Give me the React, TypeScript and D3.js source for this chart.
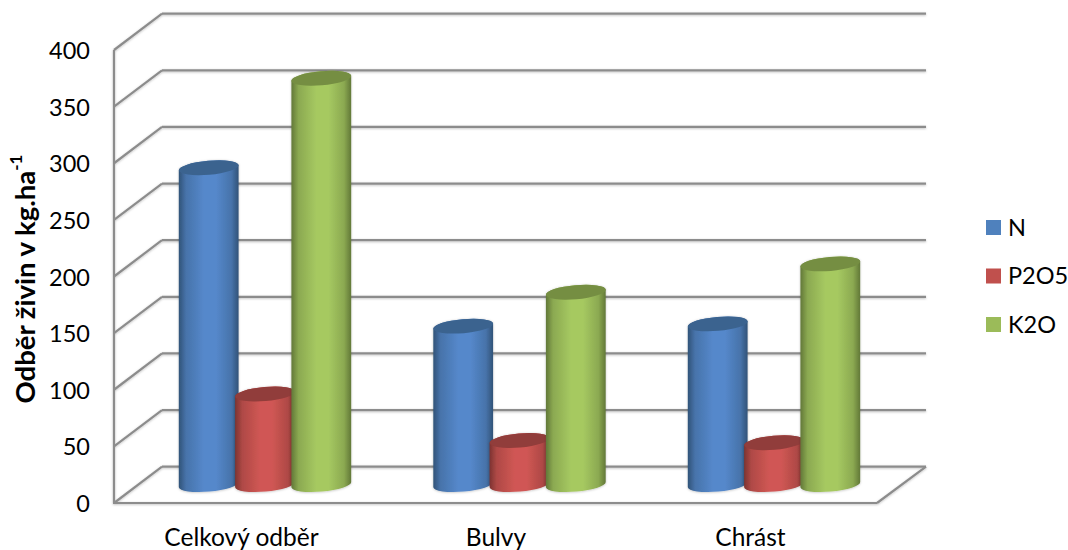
import React from "react";
import * as d3 from "d3";

const categories = ["Celkový odběr", "Bulvy", "Chrást"];
const seriesNames = ["N", "P2O5", "K2O"];
const nValues = [280, 140, 142];
const p2o5Values = [80, 39, 37];
const k2oValues = [359, 170, 195];
const tickValues = [0, 50, 100, 150, 200, 250, 300, 350, 400];

const seriesValues = [nValues, p2o5Values, k2oValues];
const swatch = ["#4f81bd", "#c0504d", "#9bbb59"];
const capFill = ["#3b638f", "#913c3a", "#758e43"];
const edge = ["#315378", "#7d3331", "#627838"];
const mid = ["#5588cb", "#d05754", "#a6c961"];

// The 3D box: a front plane, a back wall and a mid-depth plane for the cylinders.
const yFront = d3.scaleLinear().domain([0, 400]).range([503, 50]);
const yBack = d3.scaleLinear().domain([0, 400]).range([466.7, 13.7]);
const yMid = d3.scaleLinear().domain([0, 400]).range([484.6, 31.9]);
const xCat = d3.scaleBand().domain(categories).range([137.75, 901.25]);
const xSeries = d3.scaleBand().domain(seriesNames).range([-84.45, 84.45]);

const left = 114;
const backLeft = 162;
const frontRight = 877;
const backRight = 926;
const rx = 30;
const ry = 7;
const tilt = -5;
const rad = (tilt * Math.PI) / 180;
const dx = rx * Math.cos(rad);
const dy = rx * Math.sin(rad);
const FONT = "Lato, 'Open Sans', sans-serif";
const GRID = "#8c8c8c";

function cylinderBody(cx: number, yTop: number, yBase: number) {
  const bottom = `A${rx},${ry} ${tilt} 0 0 ${cx + dx},${yBase + dy}`;
  const top = `A${rx},${ry} ${tilt} 0 0 ${cx - dx},${yTop - dy}`;
  return `M${cx - dx},${yTop - dy}L${cx - dx},${yBase - dy}${bottom}L${cx + dx},${yTop + dy}${top}Z`;
}

export default function App() {
  const gridLines = tickValues.filter((t) => t > 0);
  return (
    <svg
      width={1068}
      height={550}
      viewBox="0 0 1068 550"
      style={{ position: "absolute", left: 0, top: 0, background: "#fff" }}
    >
      <defs>
        {seriesNames.map((s, i) => (
          <linearGradient key={s} id={`cyl-${i}`} x1="0" x2="1" y1="0" y2="0">
            <stop offset="0" stopColor={edge[i]} />
            <stop offset="0.12" stopColor={d3.interpolateRgb(edge[i], mid[i])(0.6)} />
            <stop offset="0.42" stopColor={mid[i]} />
            <stop offset="0.62" stopColor={mid[i]} />
            <stop offset="0.88" stopColor={d3.interpolateRgb(edge[i], mid[i])(0.6)} />
            <stop offset="1" stopColor={edge[i]} />
          </linearGradient>
        ))}
        <filter id="soft" x="-20%" y="-20%" width="140%" height="140%">
          <feDropShadow dx="0" dy="0.5" stdDeviation="1.2" floodColor="#000" floodOpacity="0.25" />
        </filter>
        <filter id="lineShadow" filterUnits="userSpaceOnUse" x="0" y="0" width="1068" height="550">
          <feDropShadow dx="0" dy="0.8" stdDeviation="0.8" floodColor="#000" floodOpacity="0.25" />
        </filter>
      </defs>

      {/* box frame and gridlines */}
      <g stroke={GRID} strokeWidth={2.2} fill="none" filter="url(#lineShadow)">
        {tickValues.map((t) => (
          <line key={`d${t}`} x1={left} y1={yFront(t)} x2={backLeft} y2={yBack(t)} />
        ))}
        {gridLines.map((t) => (
          <line key={`b${t}`} x1={backLeft} y1={yBack(t)} x2={backRight} y2={yBack(t)} />
        ))}
        <line x1={backLeft} y1={yBack(0)} x2={backRight} y2={yBack(0)} />
        <line x1={backRight} y1={yBack(0)} x2={frontRight} y2={yFront(0)} />
        <line x1={left} y1={yFront(400)} x2={left} y2={yFront(0)} />
        <line x1={left - 1} y1={yFront(0)} x2={frontRight} y2={yFront(0)} />
      </g>

      {/* cylinders */}
      {categories.map((c, ci) => {
        const center = xCat(c)! + xCat.bandwidth() / 2;
        return (
          <g key={c}>
            {seriesNames.map((s, si) => {
              const cx = center + xSeries(s)! + xSeries.bandwidth() / 2;
              const yTop = yMid(seriesValues[si][ci]);
              return (
                <g key={s} filter="url(#soft)">
                  <path d={cylinderBody(cx, yTop, yMid(0))} fill={`url(#cyl-${si})`} />
                  <ellipse
                    cx={cx}
                    cy={yTop}
                    rx={rx}
                    ry={ry}
                    fill={capFill[si]}
                    transform={`rotate(${tilt} ${cx} ${yTop})`}
                  />
                </g>
              );
            })}
          </g>
        );
      })}

      {/* value axis */}
      <g fontFamily={FONT} fontSize={23.5} fill="#000" textAnchor="end">
        {tickValues.map((t) => (
          <text key={t} x={90} y={yFront(t)} dominantBaseline="central">
            {t}
          </text>
        ))}
      </g>

      {/* category axis */}
      <g fontFamily={FONT} fontSize={24.5} fill="#000" textAnchor="middle">
        {categories.map((c) => (
          <text key={c} x={xCat(c)! + xCat.bandwidth() / 2 - 23.5} y={536} dominantBaseline="central">
            {c}
          </text>
        ))}
      </g>

      <text
        transform="translate(24,279) rotate(-90)"
        fontFamily={FONT}
        fontSize={27.5}
        fontWeight={700}
        textAnchor="middle"
        dominantBaseline="central"
      >
        Odběr živin v kg.ha
        <tspan fontSize={17} dy={-9}>
          -1
        </tspan>
      </text>

      {/* legend */}
      <g fontFamily={FONT} fontSize={23.5} fill="#000">
        {seriesNames.map((s, i) => (
          <g key={s} transform={`translate(986,${220 + i * 48.5})`}>
            <rect width={15} height={15} fill={swatch[i]} />
            <text x={22} y={6.5} dominantBaseline="central">
              {s}
            </text>
          </g>
        ))}
      </g>
    </svg>
  );
}
